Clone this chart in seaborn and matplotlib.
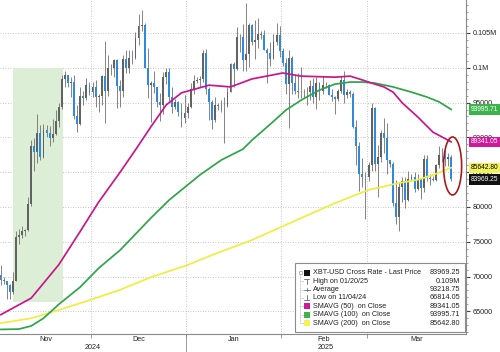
import matplotlib
matplotlib.use("Agg")
import matplotlib.pyplot as plt
import matplotlib.transforms as mtransforms
from matplotlib.patches import Rectangle, Ellipse
from matplotlib.lines import Line2D
from matplotlib.ticker import MultipleLocator
import seaborn as sns
import numpy as np
import pandas as pd

# ---------------- data ----------------
start_date = "2024-11-01"
end_date = "2025-03-28"
first_open = 70220

closes = [
    # Nov 2024
    69480, 69330, 68740, 67810, 69360, 75640, 75900, 76550, 76680, 80370,
    88700, 87950, 90580, 87250, 91070, 90570, 89840, 90540, 92340, 94340,
    98400, 98990, 97780, 98010, 93100, 91990, 95960, 95650, 97460, 96450,
    # Dec 2024
    97280, 95870, 96000, 98770, 96600, 99920, 99920, 101170, 97370, 96660,
    101200, 100040, 101460, 101370, 104300, 106030, 106140, 100040, 97490, 97760,
    97220, 95100, 94690, 98680, 99430, 95790, 94300, 95150, 93710, 92780, 93430,
    # Jan 2025
    94420, 96890, 98110, 98240, 98350, 102080, 96920, 95040, 92480, 94700,
    94570, 94490, 94520, 96530, 100500, 99760, 104460, 104410, 101090, 102020,
    106150, 103650, 103960, 104820, 104710, 102600, 102080, 101330, 103700, 104740, 102410,
    # Feb 2025
    100650, 97690, 101400, 97870, 96620, 96590, 96530, 96480, 96500, 97400,
    95750, 97870, 96620, 97510, 97570, 96120, 95770, 95540, 96640, 98310,
    96130, 96580, 96270, 91550, 88700, 84700, 84370, 84350,
    # Mar 2025
    86030, 94250, 86120, 87220, 90620, 89960, 86740, 86150, 80600, 78530,
    82860, 83720, 81070, 83970, 84340, 82580, 84080, 82720, 86850, 84170,
    84040, 83830, 86080, 87500, 87470, 86900, 87180, 83969,
]
highs = [
    71600, 69900, 69400, 69000, 70600, 76500, 76900, 77200, 76900, 81500,
    89600, 89900, 93400, 91800, 91900, 91800, 91600, 92600, 94000, 94900,
    99000, 99600, 99000, 98700, 98900, 94700, 97300, 96600, 98600, 97900,
    98000, 98200, 96300, 99000, 103900, 101900, 100600, 101300, 101200, 98200,
    101900, 102500, 102600, 102600, 105100, 107800, 108300, 106500, 102800, 98100,
    99500, 97300, 96400, 99400, 99900, 99900, 97300, 95500, 95200, 94900, 96100,
    94900, 97800, 98900, 98700, 98800, 102500, 102700, 97300, 95400, 95800,
    94900, 95300, 95800, 97300, 100700, 100800, 105900, 104900, 106300, 109300,
    106400, 106300, 106800, 107100, 105300, 105400, 102800, 103700, 104800, 106400, 106000,
    102800, 101400, 102500, 101700, 99000, 99200, 100100, 96900, 97300, 98300,
    98500, 98700, 97900, 98800, 97900, 97700, 97000, 96000, 96900, 98800,
    99500, 96900, 96800, 96500, 92500, 89300, 87000, 85000,
    86500, 95000, 94400, 88900, 91000, 92800, 92000, 86800, 86500, 83900,
    83600, 84300, 84300, 85200, 84700, 85000, 84700, 84100, 87400, 87400,
    84800, 84500, 86200, 88700, 88500, 88200, 87700, 87500,
]
lows = [
    68800, 69000, 66830, 66814, 67500, 69350, 74700, 75600, 75800, 76500,
    80200, 85200, 86300, 86700, 87100, 90100, 88800, 89400, 90400, 91500,
    94100, 97200, 97300, 95800, 92600, 90800, 91800, 94700, 95400, 96100,
    95800, 94400, 93600, 94700, 92100, 95900, 99000, 98700, 94200, 94300,
    95800, 99300, 99200, 100600, 101200, 103300, 105300, 100000, 95700, 92200,
    96400, 94300, 92400, 93400, 97600, 95200, 93500, 94100, 93100, 91500, 92000,
    92800, 94200, 96200, 97800, 97300, 97900, 96200, 92500, 91200, 92200,
    93900, 93700, 89200, 94300, 96500, 97300, 99700, 102300, 99600, 99500,
    100100, 103300, 101300, 102800, 104100, 102500, 97800, 100300, 101300, 103300, 101600,
    100300, 96200, 91300, 96200, 96200, 95700, 95700, 95700, 94700, 95300,
    94900, 94100, 95300, 96300, 97100, 96100, 95200, 93400, 95200, 96400,
    94900, 95700, 95800, 91300, 86100, 82300, 82800, 78300,
    83800, 85100, 85100, 81500, 86400, 87800, 84700, 85800, 80100, 77500,
    76600, 80700, 79900, 80800, 83700, 82200, 82500, 81200, 82200, 83700,
    83200, 83700, 83800, 85600, 86400, 85900, 85900, 83700,
]

ma50_dates = ["2024-11-01", "2024-11-11", "2024-11-20", "2024-11-27", "2024-12-03",
              "2024-12-10", "2024-12-15", "2024-12-20", "2024-12-25", "2024-12-30",
              "2025-01-08", "2025-01-15", "2025-01-22", "2025-02-01", "2025-02-07",
              "2025-02-18", "2025-02-23", "2025-02-27", "2025-03-02", "2025-03-06",
              "2025-03-09", "2025-03-12", "2025-03-17", "2025-03-22", "2025-03-28"]
ma50_vals = [64500, 66900, 71700, 76500, 80700, 85000, 88200, 91500, 94650, 96400,
             97500, 97250, 98400, 99250, 98800, 98650, 98800, 98250, 97800, 97250,
             96500, 94950, 92950, 90750, 89341]

ma100_dates = ["2024-11-01", "2024-11-07", "2024-11-11", "2024-11-15", "2024-11-20",
               "2024-11-27", "2024-12-03", "2024-12-10", "2024-12-20", "2024-12-26",
               "2025-01-05", "2025-01-12", "2025-01-19", "2025-01-22", "2025-01-29",
               "2025-02-02", "2025-02-07", "2025-02-13", "2025-02-18", "2025-02-23",
               "2025-02-27", "2025-03-03", "2025-03-09", "2025-03-15", "2025-03-20",
               "2025-03-24", "2025-03-28"]
ma100_vals = [62400, 62450, 62900, 64000, 66000, 68500, 71200, 73800, 78400, 81000,
              84600, 86750, 88300, 89600, 92300, 93900, 95350, 96800, 97650, 97950,
              97950, 97800, 97250, 96500, 95800, 95100, 93996]

ma200_dates = ["2024-11-01", "2024-11-11", "2024-11-20", "2024-11-30", "2024-12-10",
               "2024-12-20", "2025-01-01", "2025-01-09", "2025-01-22", "2025-02-07",
               "2025-02-18", "2025-03-01", "2025-03-11", "2025-03-17", "2025-03-22",
               "2025-03-28"]
ma200_vals = [63300, 64000, 65200, 66600, 68100, 69900, 71650, 73100, 75250, 78400,
              80550, 82450, 83450, 83900, 84600, 85643]

shade_dates = ["2024-11-05", "2024-11-21"]
shade_prices = [66340, 100000]

ytick_values = [65000, 70000, 75000, 80000, 85000, 90000, 95000, 100000, 105000]
ytick_labels = ["65000", "70000", "75000", "80000", "85000", "90000", "95000", "0.1M", "0.105M"]
month_labels = ["Nov", "Dec", "Jan", "Feb", "Mar"]
month_starts = ["2024-11-01", "2024-12-01", "2025-01-01", "2025-02-01", "2025-03-01"]
year_labels = ["2024", "2025"]
year_label_dates = ["2024-12-01", "2025-02-15"]

legend_labels = ["XBT-USD Cross Rate - Last Price", "High on 01/20/25", "Average",
                 "Low on 11/04/24", "SMAVG (50)  on Close", "SMAVG (100)  on Close",
                 "SMAVG (200)  on Close"]
legend_values = ["83969.25", "0.109M", "93218.75", "66814.05", "89341.05", "93995.71", "85642.80"]

last_values = [93995.71, 89341.05, 85642.80, 83969.25]
last_texts = ["93995.71", "89341.05", "85642.80", "83969.25"]

# ---------------- style ----------------
C_UP = "#626262"
C_DN = "#2f8ade"
C_WICK = "#7a7a7a"
C_50 = "#c8168c"
C_100 = "#2fa548"
C_200 = "#eeee40"
box_colors = [("#3cb44b", "white"), ("#d0189a", "white"), ("#f2f25a", "black"), ("#111111", "white")]

sns.set_theme(style="white")
plt.rcParams["font.family"] = ["Liberation Sans", "DejaVu Sans"]

W, H = 500, 352
fig = plt.figure(figsize=(W / 100, H / 100), dpi=100)
fig.patch.set_facecolor("white")
ax = fig.add_axes([0, 18 / H, 466 / W, 334 / H])
ax.set_facecolor("white")

def fx(x):
    return x / W

def fy(y):
    return 1 - y / H

dates = pd.date_range(start_date, end_date, freq="D")
t0 = dates[0]
def didx(d):
    return (pd.Timestamp(d) - t0).days

idx = np.arange(len(dates))
c = np.array(closes, float)
o = np.array([first_open] + closes[:-1], float)
hi = np.array(highs, float)
lo = np.array(lows, float)

ax.set_xlim(-0.17, 151.77)
ax.set_ylim(61744, 109740)

# grid
for v in ytick_values:
    ax.axhline(v, color="#b4b4b4", lw=0.6, ls=(0, (1, 2)), zorder=0.5)
bounds = [didx(d) - 0.5 for d in month_starts[1:]]
for b in bounds:
    ax.axvline(b, color="#b4b4b4", lw=0.6, ls=(0, (1, 2)), zorder=0.5)

# shaded region
s0, s1 = didx(shade_dates[0]), didx(shade_dates[1])
ax.add_patch(Rectangle((s0, shade_prices[0]), s1 - s0 + 0.4, shade_prices[1] - shade_prices[0],
                       facecolor="#dcefd6", edgecolor="none", zorder=0.8))

# candles
ax.vlines(idx, lo, hi, color=C_WICK, lw=0.65, zorder=2)
up = c >= o
body_bottom = np.minimum(o, c)
body_h = np.maximum(np.abs(c - o), 60)
ax.bar(idx[up], body_h[up], bottom=body_bottom[up], width=0.62, color=C_UP, linewidth=0, zorder=3)
ax.bar(idx[~up], body_h[~up], bottom=body_bottom[~up], width=0.62, color=C_DN, linewidth=0, zorder=3)

# moving averages
for dl, vl, col in [(ma200_dates, ma200_vals, C_200), (ma100_dates, ma100_vals, C_100), (ma50_dates, ma50_vals, C_50)]:
    df = pd.DataFrame({"x": [didx(d) for d in dl], "y": vl})
    sns.lineplot(data=df, x="x", y="y", ax=ax, color=col, lw=1.25, zorder=4, legend=False)
ax.set_xlabel("")
ax.set_ylabel("")

# red ellipse around last bar
last_i = len(dates) - 1
ax.add_patch(Ellipse((last_i + 0.4, 85890), 5.9, 8335, fill=False, ec="#a51c1c", lw=1.2, zorder=6))

# spines
for s in ["left", "top"]:
    ax.spines[s].set_visible(False)
for s in ["right", "bottom"]:
    ax.spines[s].set_visible(True)
    ax.spines[s].set_color("#8a8a8a")
    ax.spines[s].set_linewidth(0.8)

# y axis right
ax.yaxis.tick_right()
ax.set_yticks(ytick_values)
ax.set_yticklabels(ytick_labels)
ax.yaxis.set_minor_locator(MultipleLocator(1000))
ax.tick_params(axis="y", which="major", right=True, left=False, length=3, width=0.8,
               color="#444444", pad=2, labelsize=5.2, labelcolor="#222222")
ax.tick_params(axis="y", which="minor", right=True, left=False, length=1.5, width=0.5, color="#777777")

# x axis: ticks at month boundaries
ax.set_xticks(bounds)
ax.set_xticklabels([])
ax.tick_params(axis="x", which="major", bottom=True, length=3, width=0.6, color="#8a8a8a")
trans = mtransforms.blended_transform_factory(ax.transData, fig.transFigure)
ax.add_line(Line2D([didx(month_starts[2]) - 0.5] * 2, [fy(334), fy(352)], transform=trans,
                   color="#8a8a8a", lw=0.6, clip_on=False))
xmin, xmax = ax.get_xlim()
edges = [xmin] + bounds + [xmax]
for k, lab in enumerate(month_labels):
    xc = (edges[k] + edges[k + 1]) / 2
    ax.text(xc, fy(339.5), lab, transform=trans, ha="center", va="center", fontsize=5.2, color="#222222")
for lab, d in zip(year_labels, year_label_dates):
    ax.text(didx(d), fy(347.5), lab, transform=trans, ha="center", va="center", fontsize=5.2, color="#222222")

# last value boxes on right axis
transR = mtransforms.blended_transform_factory(fig.transFigure, ax.transData)
for v, t, (fc, tc) in zip(last_values, last_texts, box_colors):
    ax.text(fx(471), v, t, transform=transR, ha="left", va="center", fontsize=4.8, color=tc,
            bbox=dict(boxstyle="square,pad=0.25", fc=fc, ec="none"), zorder=8, clip_on=False)

# legend box
Z = 10
fig.add_artist(Rectangle((fx(295), fy(332)), fx(465) - fx(295), fy(263) - fy(332),
                         transform=fig.transFigure, facecolor="white", edgecolor="#8c8c8c",
                         lw=0.8, zorder=Z))
row_y = [272.7 + k * 8.43 for k in range(7)]
gray = "#7a7a7a"
# tree connector
fig.add_artist(Rectangle((fx(298.6), fy(274.3)), fx(3.2), fy(271.1) - fy(274.3), transform=fig.transFigure,
                         facecolor="white", edgecolor="#9a9a9a", lw=0.5, zorder=Z + 1))
fig.add_artist(Line2D([fx(300.2), fx(300.2)], [fy(274.5), fy(row_y[-1])], transform=fig.transFigure,
                      color="#a0a0a0", lw=0.5, ls=(0, (1, 1)), zorder=Z + 1))
for ry in row_y[1:]:
    fig.add_artist(Line2D([fx(300.2), fx(303.5)], [fy(ry), fy(ry)], transform=fig.transFigure,
                          color="#a0a0a0", lw=0.5, ls=(0, (1, 1)), zorder=Z + 1))
# icons
def sq(ry, col):
    fig.add_artist(Rectangle((fx(304), fy(ry + 3)), fx(6), fy(ry - 3) - fy(ry + 3),
                             transform=fig.transFigure, facecolor=col, edgecolor="none", zorder=Z + 1))
def seg(x0, y0, x1, y1):
    fig.add_artist(Line2D([fx(x0), fx(x1)], [fy(y0), fy(y1)], transform=fig.transFigure,
                          color=gray, lw=0.7, zorder=Z + 1))
sq(row_y[0], "#111111")
seg(304, row_y[1] - 2.5, 309, row_y[1] - 2.5); seg(306.5, row_y[1] - 2.5, 306.5, row_y[1] + 3)
seg(303.5, row_y[2], 310, row_y[2]); seg(306.7, row_y[2] - 1.2, 306.7, row_y[2] + 1.2)
seg(306.5, row_y[3] - 3, 306.5, row_y[3] + 2.5); seg(304, row_y[3] + 2.5, 309, row_y[3] + 2.5)
sq(row_y[4], "#d0189a")
sq(row_y[5], "#3cb44b")
sq(row_y[6], "#f2f25a")
for ry, lab, val in zip(row_y, legend_labels, legend_values):
    fig.text(fx(312.7), fy(ry), lab, ha="left", va="center", fontsize=5.2, color="#222222", zorder=Z + 2)
    fig.text(fx(460), fy(ry), val, ha="right", va="center", fontsize=5.2, color="#222222", zorder=Z + 2)

fig.savefig("out.png", dpi=100, facecolor="white")
